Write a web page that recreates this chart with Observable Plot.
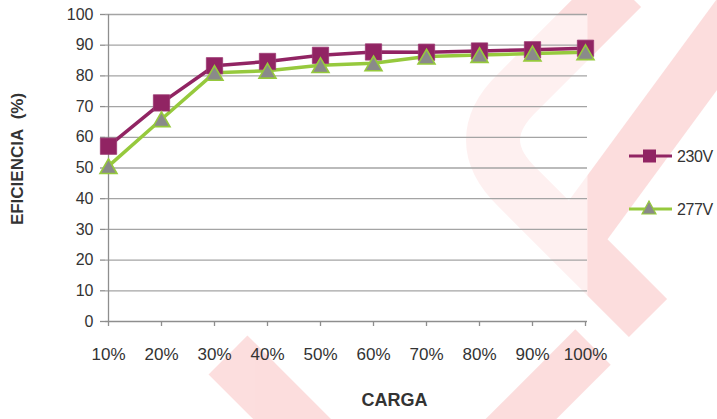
<!DOCTYPE html>
<html>
<head>
<meta charset="utf-8">
<script src="https://cdn.jsdelivr.net/npm/d3@7"></script>
<script src="https://cdn.jsdelivr.net/npm/@observablehq/plot@0.6"></script>
<style>
  html, body { margin: 0; padding: 0; background: #ffffff; }
  #wrap { position: relative; width: 717px; height: 419px; overflow: hidden; font-family: "Liberation Sans", Arial, sans-serif; }
  #wm, #chart, #legend { position: absolute; left: 0; top: 0; }
</style>
</head>
<body>
<div id="wrap">
  <svg id="wm" width="717" height="419">
    <g fill="none" stroke="#ee3b3b" opacity="0.17" stroke-linejoin="round">
      <path d="M 622,-12 L 518,92 Q 468,140 518,188 L 648,318" stroke-width="54"/>
      <path d="M 757,-10 L 572,242" stroke-width="54"/>
      <path d="M 228,355 L 320,447" stroke-width="55"/>
      <path d="M 593,347 L 490,450" stroke-width="50"/>
    </g>
  </svg>
  <div id="chart"></div>
  <svg id="legend" width="717" height="419"></svg>
</div>
<script>
// ---- data ----
const categories = ["10%", "20%", "30%", "40%", "50%", "60%", "70%", "80%", "90%", "100%"];
const v230 = [57.1, 71.2, 83.3, 84.7, 86.7, 87.8, 87.7, 88.1, 88.5, 89.0];
const v277 = [50.6, 65.9, 81.0, 81.7, 83.5, 84.1, 86.3, 86.8, 87.3, 87.7];
const yTicks = [0, 10, 20, 30, 40, 50, 60, 70, 80, 90, 100];
const seriesNames = ["230V", "277V"];
const seriesColors = ["#912463", "#96c93d"];
const xTitle = "CARGA";
const yTitle = "EFICIENCIA\u00a0\u00a0(%)";

const d230 = categories.map((c, i) => ({carga: c, ef: v230[i], serie: seriesNames[0]}));
const d277 = categories.map((c, i) => ({carga: c, ef: v277[i], serie: seriesNames[1]}));
const data = d230.concat(d277);

const axisColor = "#8e8e8e";
const gridColor = "#a4a4a4";
const textColor = "#333333";

const chart = Plot.plot({
  width: 717,
  height: 419,
  marginLeft: 105,
  marginRight: 130,
  marginTop: 14,
  marginBottom: 98,
  style: {fontFamily: "'Liberation Sans', Arial, sans-serif", background: "transparent", color: textColor, overflow: "visible"},
  x: {type: "point", domain: categories, padding: 0, label: null},
  y: {domain: [0, 100], label: null},
  color: {domain: seriesNames, range: seriesColors},
  marks: [
    Plot.frame({fill: "white", fillOpacity: 0.55, stroke: "none"}),
    Plot.gridY(yTicks.slice(1), {stroke: gridColor, strokeOpacity: 1, strokeWidth: 1.3}),
    Plot.ruleY([0], {stroke: axisColor, strokeWidth: 1.3}),
    Plot.ruleX([categories[0]], {y1: 0, y2: 100, stroke: axisColor, strokeWidth: 1.3}),
    Plot.axisY({ticks: yTicks, tickSize: 5, tickPadding: 7, fontSize: 16, stroke: axisColor, strokeWidth: 1.3, label: null}),
    Plot.axisX({tickSize: 5, tickPadding: 21, fontSize: 17, stroke: axisColor, strokeWidth: 1.3, label: null, style: {letterSpacing: "-0.5px"}}),
    Plot.line(data, {x: "carga", y: "ef", z: "serie", stroke: "serie", strokeWidth: 3.5}),
    Plot.dot(d230, {x: "carga", y: "ef", symbol: "square", r: 9.2, fill: seriesColors[0], stroke: "#9c3a72", strokeWidth: 0.8}),
    Plot.dot(d277, {x: "carga", y: "ef", symbol: "triangle", r: 6.3, fill: "#8a8a8a", stroke: seriesColors[1], strokeWidth: 1.6, dy: 2.5}),
    Plot.text([xTitle], {text: d => d, frameAnchor: "bottom", textAnchor: "middle", dx: 48, dy: 84, fontSize: 18, fontWeight: "bold", fill: textColor}),
    Plot.text([yTitle], {text: d => d, frameAnchor: "left", textAnchor: "middle", rotate: -90, dx: -88, dy: -9, fontSize: 17, fontWeight: "bold", fill: textColor, style: {letterSpacing: "0.3px"}})
  ]
});
document.getElementById("chart").appendChild(chart);

// ---- legend ----
const lg = d3.select("#legend");
const legendY = [156, 209];
seriesNames.forEach((name, i) => {
  const g = lg.append("g").attr("transform", `translate(0,${legendY[i]})`);
  g.append("line").attr("x1", 629).attr("x2", 672).attr("y1", 0).attr("y2", 0)
    .attr("stroke", seriesColors[i]).attr("stroke-width", 3);
  if (i === 0) {
    g.append("rect").attr("x", 643).attr("y", -6.5).attr("width", 13).attr("height", 13)
      .attr("fill", seriesColors[0]);
  } else {
    g.append("path").attr("d", "M649,-8 L656,5 L642,5 Z")
      .attr("fill", "#8a8a8a").attr("stroke", seriesColors[1]).attr("stroke-width", 1.2);
  }
  g.append("text").attr("x", 677).attr("y", 0).attr("dy", "0.36em")
    .attr("font-size", 16).attr("fill", textColor)
    .attr("font-family", "'Liberation Sans', Arial, sans-serif")
    .attr("letter-spacing", "-0.4px")
    .text(name);
});
</script>
</body>
</html>
